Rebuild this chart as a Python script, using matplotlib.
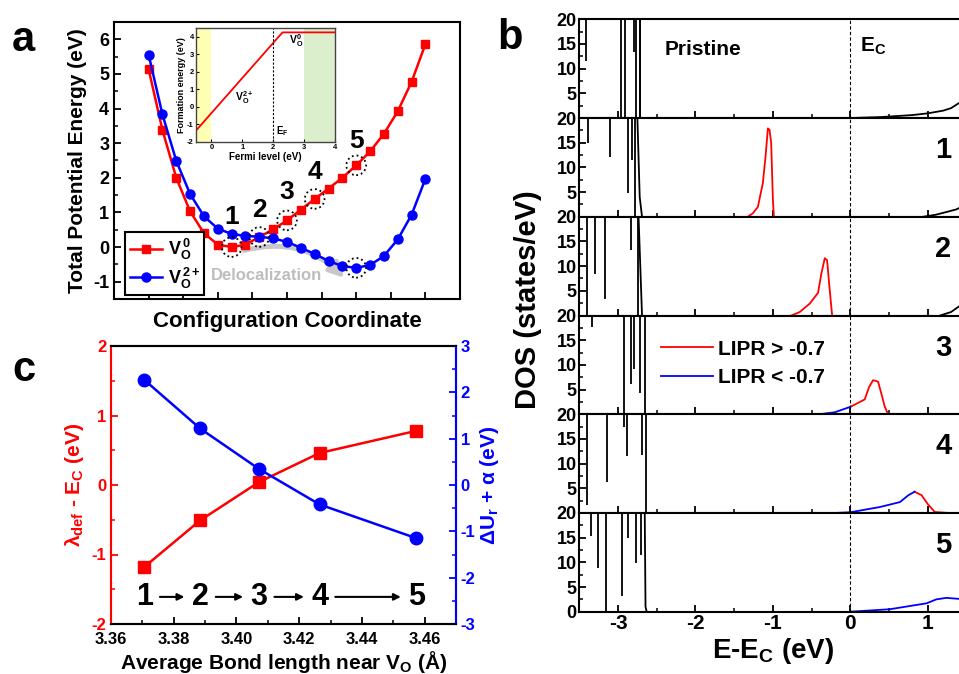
"""Vo configuration coordinate, DOS panels and bond-length trend"""
import matplotlib
matplotlib.use('Agg')
import matplotlib.pyplot as plt
from matplotlib.ticker import MultipleLocator

plt.rcParams['font.family'] = ['Liberation Sans', 'DejaVu Sans']
plt.rcParams['font.weight'] = 'bold'
plt.rcParams['axes.labelweight'] = 'bold'
plt.rcParams['mathtext.fontset'] = 'custom'
plt.rcParams['mathtext.rm'] = 'Liberation Sans:bold'
plt.rcParams['mathtext.bf'] = 'Liberation Sans:bold'
plt.rcParams['mathtext.it'] = 'Liberation Sans:bold'
plt.rcParams['mathtext.default'] = 'bf'
plt.rcParams['axes.unicode_minus'] = False
plt.rcParams['xtick.direction'] = 'in'
plt.rcParams['ytick.direction'] = 'in'
plt.rcParams['axes.linewidth'] = 1.5

# ---- panel a: total potential energy along configuration coordinate
config = list(range(21))
e_vo0 = [5.14, 3.38, 2.00, 1.03, 0.40, 0.07, 0.00, 0.07, 0.29, 0.51, 0.77,
         1.08, 1.39, 1.69, 2.00, 2.36, 2.76, 3.27, 3.92, 4.77, 5.86]
e_vo2 = [5.56, 3.83, 2.49, 1.53, 0.89, 0.53, 0.38, 0.32, 0.30, 0.25, 0.15,
         -0.02, -0.20, -0.40, -0.55, -0.60, -0.52, -0.26, 0.22, 0.93, 1.97]
circled_vo0 = [6, 8, 10, 12, 15]
circled_vo2 = [15]
state_labels = ['1', '2', '3', '4', '5']
state_label_y = [0.86, 1.06, 1.58, 2.16, 3.07]

# inset: formation energy vs Fermi level
fermi_level = [-0.5, 2.3, 4.0]
formation_e = [-1.35, 4.25, 4.25]

# ---- panel c: vs average bond length
bond_len = [3.3706, 3.3884, 3.4071, 3.4265, 3.4574]
lam_def = [-1.18, -0.51, 0.04, 0.46, 0.78]
du_alpha = [2.27, 1.22, 0.35, -0.42, -1.15]

# ---- panel b: DOS, one entry per sub-panel (pristine, 1..5)
dos_names = ['Pristine', '1', '2', '3', '4', '5']
# valence-band dips: (energy, lowest DOS reached) ; curve is off-scale between
vb_dip_e = [
    [-3.41, -2.965, -2.909, -2.793, -2.772, -2.720],
    [-3.389, -3.104, -2.87, -2.814, -2.78],
    [-3.397, -3.302, -3.168, -2.832, -2.741],
    [-3.341, -2.922, -2.832, -2.793, -2.719],
    [-3.397, -3.138, -2.922, -2.888, -2.693],
    [-3.345, -3.255, -3.16, -2.944, -2.87, -2.763, -2.706],
]
vb_dip_dos = [
    [11.6, 0, 0, 13.4, 0, 0],
    [14.9, 12.2, 4.9, 11.5, 0],
    [0, 8.5, 3.4, 13.2, 0],
    [17.6, 0, 6.2, 9.1, 4.4],
    [1.6, 6.3, 17.4, 11.6, 11.8],
    [15.3, 8.8, 0, 3.2, 15.0, 9.9, 11.5],
]
# valence band edge
vb_edge_e = [
    [-2.72, -2.72],
    [-2.75, -2.72, -2.69],
    [-2.735, -2.69],
    [-2.65, -2.65],
    [-2.637, -2.637],
    [-2.655, -2.645, -2.63],
]
vb_edge_dos = [
    [20, 0],
    [20, 4.0, 0],
    [20, 0],
    [20, 0],
    [20, 0],
    [20, 1.0, 0],
]
# conduction band (black)
cb_e = [
    [0.0, 0.4, 0.8, 1.0, 1.2, 1.3, 1.4, 1.5],
    [0.94, 1.1, 1.25, 1.37, 1.5],
    [1.16, 1.3, 1.4, 1.5],
    [], [], [],
]
cb_dos = [
    [0.0, 0.2, 0.6, 0.95, 1.5, 2.0, 3.0, 4.5],
    [0.0, 0.4, 1.0, 1.5, 2.5],
    [0.0, 0.7, 1.8, 2.8],
    [], [], [],
]
# localized states, LIPR > -0.7 (red)
loc_e = [
    [],
    [-1.324, -1.259, -1.194, -1.130, -1.095, -1.065, -1.043, -1.022, -1.0, -0.987],
    [-0.762, -0.654, -0.525, -0.417, -0.374, -0.330, -0.300, -0.274, -0.235],
    [0.0, 0.186, 0.242, 0.294, 0.358, 0.40, 0.445, 0.488],
    [0.83, 0.92, 1.0, 1.09, 1.265],
    [],
]
loc_dos = [
    [],
    [0.0, 0.7, 2.0, 6.8, 12.2, 17.9, 17.6, 14.9, 3.4, 0.0],
    [0.0, 0.7, 2.4, 4.6, 8.5, 11.6, 11.2, 6.5, 0.0],
    [1.5, 3.0, 5.5, 6.9, 6.6, 4.2, 1.5, 0.0],
    [4.3, 3.6, 1.8, 0.2, 0.0],
    [],
]
# delocalized states, LIPR < -0.7 (blue)
deloc_e = [
    [], [], [],
    [-0.40, -0.2, 0.0],
    [-0.2, 0.0, 0.38, 0.64, 0.75, 0.83],
    [0.0, 0.51, 0.985, 1.11, 1.24, 1.40, 1.5],
]
deloc_dos = [
    [], [], [],
    [0.0, 0.4, 1.5],
    [0.0, 0.14, 1.2, 2.2, 3.6, 4.3],
    [0.0, 0.5, 1.7, 2.5, 2.8, 2.6, 2.4],
]

W, H = 959, 674


def box(left, top, right, bottom):
    """pixel box -> figure fraction rect"""
    return [left / W, 1 - bottom / H, (right - left) / W, (bottom - top) / H]


def bold_ticks(axis):
    for lab in axis.get_xticklabels() + axis.get_yticklabels():
        lab.set_fontweight('bold')


fig = plt.figure(figsize=(W / 100, H / 100), dpi=100)

# ================= panel a
ax = fig.add_axes(box(114, 22, 460, 299))
ax.plot(config, e_vo0, '-s', color='red', lw=1.8, ms=6, label=r'$V_O^{\,0}$')
ax.plot(config, e_vo2, '-o', color='blue', lw=1.8, ms=6.5, label=r'$V_O^{\,2+}$')
ax.scatter([config[i] for i in circled_vo0], [e_vo0[i] for i in circled_vo0],
           s=200, facecolors='none', edgecolors='black', linestyles=':', lw=1.3,
           zorder=5)
ax.scatter([config[i] for i in circled_vo2], [e_vo2[i] for i in circled_vo2],
           s=200, facecolors='none', edgecolors='black', linestyles=':', lw=1.3,
           zorder=5)
for i, lab, ly in zip(circled_vo0, state_labels, state_label_y):
    ax.text(config[i], ly, lab, fontsize=19, ha='center', va='center')
ax.annotate('', xy=(14.3, -0.95), xytext=(6.7, -0.12),
            arrowprops=dict(arrowstyle='-|>', color='#c8c8c8', lw=3.5,
                            mutation_scale=22,
                            connectionstyle='arc3,rad=-0.3'), zorder=1)
ax.text(8.5, -0.81, 'Delocalization', color='#bdbdbd', fontsize=12,
        ha='center', va='center')
ax.set_xlim(-2.5, 22.5)
ax.set_ylim(-1.5, 6.5)
ax.xaxis.set_major_locator(MultipleLocator(2.5))
ax.set_xticklabels([])
ax.yaxis.set_major_locator(MultipleLocator(1))
ax.yaxis.set_minor_locator(MultipleLocator(0.5))
ax.tick_params(labelsize=13, width=1.3, length=5)
ax.tick_params(which='minor', width=1.1, length=3)
ax.set_ylabel('Total Potential Energy (eV)', fontsize=15)
ax.set_xlabel('Configuration Coordinate', fontsize=16, labelpad=5)
leg = ax.legend(loc='lower left', bbox_to_anchor=(0.032, 0.014), fontsize=13,
                handlelength=1.8, fancybox=False, edgecolor='black',
                borderpad=0.25, labelspacing=0.2, handletextpad=0.3,
                borderaxespad=0, framealpha=1)
leg.get_frame().set_linewidth(1.5)
bold_ticks(ax)
fig.text(12 / W, 1 - 40 / H, 'a', fontsize=30, va='center')

# inset
axi = fig.add_axes(box(196, 28, 335, 142))
axi.axvspan(-0.5, 0, color='#ffffb4', lw=0)
axi.axvspan(3, 4, color='#dcefcc', lw=0)
axi.plot(fermi_level, formation_e, color='red', lw=1.3)
axi.axvline(2, color='black', ls=(0, (2, 1.5)), lw=0.8)
axi.text(2.5, 3.6, r'$V_O^0$', fontsize=7.5)
axi.text(0.75, 0.35, r'$V_O^{2+}$', fontsize=7.5)
axi.text(2.1, -1.55, r'$E_F$', fontsize=7)
axi.set_xlim(-0.5, 4)
axi.set_ylim(-2, 4.5)
axi.set_xticks([0, 1, 2, 3, 4])
axi.set_yticks([-2, -1, 0, 1, 2, 3, 4])
axi.tick_params(labelsize=5.5, length=2, width=0.8, pad=1.5)
for s in axi.spines.values():
    s.set_linewidth(1.0)
    s.set_color('#444444')
axi.set_xlabel('Fermi level (eV)', fontsize=7, labelpad=1)
axi.set_ylabel('Formation energy (eV)', fontsize=6.5, labelpad=1)
bold_ticks(axi)

# ================= panel c
axc = fig.add_axes(box(111, 346, 456, 624))
axc.plot(bond_len, lam_def, '-s', color='red', lw=1.8, ms=8)
axc.set_xlim(3.36, 3.47)
axc.set_ylim(-2, 2)
axc.set_xticks([3.36, 3.38, 3.40, 3.42, 3.44, 3.46])
axc.xaxis.set_minor_locator(MultipleLocator(0.01))
axc.yaxis.set_major_locator(MultipleLocator(1))
axc.yaxis.set_minor_locator(MultipleLocator(0.5))
axc.tick_params(labelsize=12, width=1.3, length=5)
axc.tick_params(axis='x', pad=6)
axc.tick_params(which='minor', width=1.1, length=3)
axc.tick_params(axis='y', colors='red', which='both')
axc.spines['left'].set_color('red')
axc.spines['right'].set_color('blue')
axc.set_ylabel(r'$\lambda_{def}$ - $E_C$ (eV)', color='red', fontsize=15,
               labelpad=4)
axc.set_xlabel(r'Average Bond length near $V_O$ ($\AA$)', fontsize=15,
               labelpad=1)
axr = axc.twinx()
axr.plot(bond_len, du_alpha, '-o', color='blue', lw=1.8, ms=9)
axr.set_ylim(-3, 3)
axr.yaxis.set_major_locator(MultipleLocator(1))
axr.yaxis.set_minor_locator(MultipleLocator(0.5))
axr.tick_params(axis='y', colors='blue', which='both', labelsize=12,
                width=1.3, length=5)
axr.tick_params(which='minor', width=1.1, length=3)
axr.spines['left'].set_color('red')
axr.spines['right'].set_color('blue')
axr.spines['left'].set_linewidth(1.5)
axr.spines['right'].set_linewidth(1.5)
axr.set_ylabel(r'$\Delta U_r$ + $\alpha$ (eV)', color='blue', fontsize=15,
               labelpad=2)
for x, lab in zip(bond_len, state_labels):
    axc.text(x, -1.61, lab, fontsize=22, ha='center', va='center')
for x0, x1 in zip(bond_len[:-1], bond_len[1:]):
    axc.annotate('', xy=(x1 - 0.005, -1.61), xytext=(x0 + 0.005, -1.61),
                 arrowprops=dict(arrowstyle='-|>', color='black', lw=1.5,
                                 mutation_scale=10, shrinkA=0, shrinkB=0))
bold_ticks(axc)
bold_ticks(axr)
fig.text(12 / W, 1 - 370 / H, 'c', fontsize=30, va='center')

# ================= panel b
top, bottom = 19.3, 611.7
step = (bottom - top) / len(dos_names)
axes_b = []
for k, name in enumerate(dos_names):
    t = top + k * step
    axb = fig.add_axes(box(579.3, t, 966.5, t + step))
    axes_b.append(axb)
    axb.vlines(vb_dip_e[k], vb_dip_dos[k], 20, color='black', lw=1.3)
    axb.plot(vb_edge_e[k], vb_edge_dos[k], color='black', lw=1.3)
    if cb_e[k]:
        axb.plot(cb_e[k], cb_dos[k], color='black', lw=1.3)
    if loc_e[k]:
        axb.plot(loc_e[k], loc_dos[k], color='red', lw=1.3)
    if deloc_e[k]:
        axb.plot(deloc_e[k], deloc_dos[k], color='blue', lw=1.3)
    axb.axvline(0, color='black', ls=(0, (3, 2)), lw=0.8)
    axb.set_xlim(-3.5, 1.5)
    axb.set_ylim(0, 20)
    axb.xaxis.set_major_locator(MultipleLocator(1))
    axb.xaxis.set_minor_locator(MultipleLocator(0.5))
    axb.set_yticks([0, 5, 10, 15, 20])
    axb.yaxis.set_minor_locator(MultipleLocator(2.5))
    axb.tick_params(labelsize=13, width=1.3, length=5, pad=2)
    axb.tick_params(which='minor', width=1.1, length=3)
    if k < len(dos_names) - 1:
        axb.set_yticklabels(['', '5', '10', '15', '20'])
        axb.set_xticklabels([])
    else:
        axb.tick_params(axis='x', labelsize=15)
    bold_ticks(axb)
    if k == 0:
        axb.text(-2.4, 13.8, name, fontsize=15, va='center')
        axb.text(0.12, 14.5, r'$E_C$', fontsize=15, va='center')
    else:
        axb.text(1.2, 13.5, name, fontsize=21, ha='center', va='center')

axes_b[3].plot([], [], color='red', lw=1.3, label='LIPR > -0.7')
axes_b[3].plot([], [], color='blue', lw=1.3, label='LIPR < -0.7')
axes_b[3].legend(loc='upper left', bbox_to_anchor=(0.19, 0.84), frameon=False,
                 fontsize=15, handlelength=2.5, labelspacing=0.45,
                 handletextpad=0.25, borderaxespad=0)
axes_b[-1].set_xlabel(r'E-$E_C$ (eV)', fontsize=20, labelpad=2)
fig.text(528 / W, 1 - 300 / H, 'DOS (states/eV)', fontsize=21,
         rotation=90, ha='center', va='center')
fig.text(497 / W, 1 - 38 / H, 'b', fontsize=30, va='center')

fig.savefig('out.png', dpi=100)
